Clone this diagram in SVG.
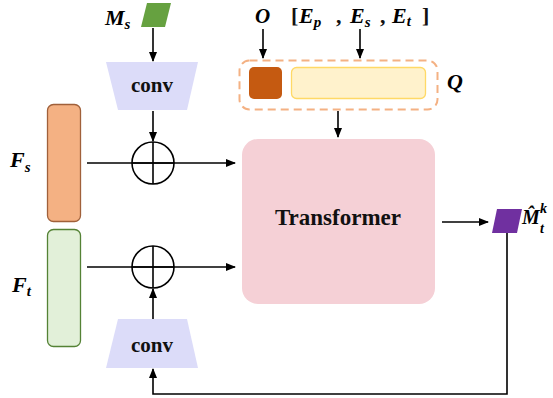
<svg xmlns="http://www.w3.org/2000/svg" width="553" height="398" viewBox="0 0 553 398">
<defs>
<marker id="arr" markerUnits="userSpaceOnUse" markerWidth="10" markerHeight="8" refX="9" refY="4" orient="auto">
<path d="M0,0 L10,4 L0,8 z" fill="#000"/>
</marker>
<style>
.lbl{font-family:"Liberation Serif","Times New Roman",serif;font-weight:bold;font-style:italic;fill:#000}
.txt{font-family:"Liberation Serif","Times New Roman",serif;font-weight:bold;fill:#111}
.ln{stroke:#000;stroke-width:1.6;fill:none}
.ar{stroke:#000;stroke-width:1.6;fill:none;marker-end:url(#arr)}
.conv{fill:#DCDCF9}
</style>
</defs>
<rect width="553" height="398" fill="#fff"/>

<g id="connectors">
<line class="ar" x1="153" y1="28" x2="153" y2="61"/>
<line class="ar" x1="153" y1="111" x2="153" y2="141"/>
<line class="ar" x1="87" y1="163" x2="235" y2="163"/>
<line class="ar" x1="87" y1="267" x2="235" y2="267"/>
<line class="ar" x1="153" y1="319" x2="153" y2="289"/>
<line class="ar" x1="263" y1="29" x2="263" y2="58"/>
<line class="ar" x1="360" y1="29" x2="360" y2="58"/>
<line class="ar" x1="338" y1="111" x2="338" y2="137"/>
<line class="ar" x1="442" y1="222" x2="488" y2="222"/>
<polyline class="ar" points="507,233 507,394 153,394 153,369"/>
</g>

<g id="Ms">
<polygon points="147,3 171,3 165,27 141,27" fill="#66A140"/>
<text class="lbl" x="105" y="25" font-size="22">M<tspan font-size="15" dy="4">s</tspan></text>
</g>

<g id="conv-top">
<polygon class="conv" points="106,62 198,62 187,110 118,110"/>
<text class="txt" x="152" y="92" font-size="21" text-anchor="middle">conv</text>
</g>

<g id="conv-bottom">
<polygon class="conv" points="118,319 187,319 198,368 106,368"/>
<text class="txt" x="152" y="352" font-size="21" text-anchor="middle">conv</text>
</g>

<g id="Fs">
<rect x="47.5" y="104.5" width="33" height="117" rx="6" fill="#F4B183" stroke="#A0603A" stroke-width="1.3"/>
<text class="lbl" x="10" y="167" font-size="22">F<tspan font-size="15" dy="5">s</tspan></text>
</g>

<g id="Ft">
<rect x="47.5" y="229.5" width="33" height="117" rx="6" fill="#E2F0D9" stroke="#548235" stroke-width="1.3"/>
<text class="lbl" x="12" y="292" font-size="22">F<tspan font-size="15" dy="4">t</tspan></text>
</g>

<g id="add-s">
<circle class="ln" cx="153" cy="163" r="21"/>
<line class="ln" x1="153" y1="142" x2="153" y2="184"/>
<line class="ln" x1="132" y1="163" x2="174" y2="163"/>
</g>

<g id="add-t">
<circle class="ln" cx="153" cy="267" r="21"/>
<line class="ln" x1="153" y1="246" x2="153" y2="288"/>
<line class="ln" x1="132" y1="267" x2="174" y2="267"/>
</g>

<g id="Q">
<rect x="239.5" y="60.5" width="198" height="49" rx="10" fill="none" stroke="#F4B183" stroke-width="2" stroke-dasharray="8 5"/>
<rect x="249" y="67" width="33" height="32" rx="5" fill="#C55A11"/>
<rect x="291.5" y="67.5" width="134" height="31" rx="5" fill="#FFF2CC" stroke="#FFD966" stroke-width="1.3"/>
<text class="lbl" x="447" y="89" font-size="22">Q</text>
<text class="lbl" x="255" y="23" font-size="21">O</text>
<text class="txt" x="291" y="23" font-size="22">[</text>
<text class="lbl" x="299" y="23" font-size="22">E<tspan font-size="15" dy="4">p</tspan></text>
<text class="txt" x="336" y="23" font-size="22">,</text>
<text class="lbl" x="350" y="23" font-size="22">E<tspan font-size="15" dy="4">s</tspan></text>
<text class="txt" x="380" y="23" font-size="22">,</text>
<text class="lbl" x="392" y="23" font-size="22">E<tspan font-size="15" dy="3">t</tspan></text>
<text class="txt" x="422" y="23" font-size="22">]</text>
</g>

<g id="transformer">
<rect x="242" y="139" width="193" height="165" rx="16" fill="#F5D0D6"/>
<text class="txt" x="338" y="225" font-size="23" text-anchor="middle">Transformer</text>
</g>

<g id="Mhat">
<polygon points="497,209 522,209 517,233 492,233" fill="#7030A0"/>
<text class="lbl" x="522" y="224" font-size="20">M̂</text>
<text class="lbl" x="540" y="213" font-size="14">k</text>
<text class="lbl" x="540" y="233" font-size="14">t</text>
</g>
</svg>
